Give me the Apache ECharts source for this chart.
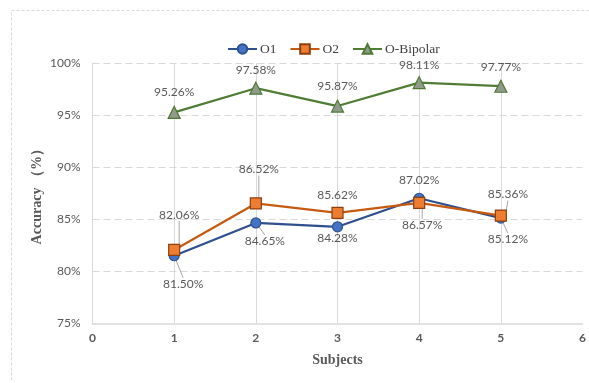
<!DOCTYPE html>
<html>
<head>
<meta charset="utf-8">
<script src="https://cdn.jsdelivr.net/npm/echarts@6/dist/echarts.min.js"></script>
<style>
  html, body { margin: 0; padding: 0; background: #fff; }
  #chart { width: 589px; height: 383px; }
</style>
</head>
<body>
<div id="chart"></div>
<script>
// Accuracy per subject for the three electrode settings
const subjects = [1, 2, 3, 4, 5];
const o1Values = [81.50, 84.65, 84.28, 87.02, 85.12];
const o2Values = [82.06, 86.52, 85.62, 86.57, 85.36];
const bipolarValues = [95.26, 97.58, 95.87, 98.11, 97.77];
const yTicks = [75, 80, 85, 90, 95, 100];
const xTicks = [0, 1, 2, 3, 4, 5, 6];

// label placement (pixel shift from each marker) and which labels get a leader line
const o1Shift = [[9, 28], [9, 18], [0, 11], [0, -18], [7, 21]];
const o2Shift = [[5, -35], [3, -34], [0, -18], [3, 22], [7, -21]];
const bipolarShift = [[0, -20], [0, -18], [0, -20], [0, -18], [0, -19]];
const o1Leader = [true, true, false, false, true];
const o2Leader = [true, true, false, true, true];
const bipolarLeader = [false, false, false, false, false];

const labelFont = 'Lato, "Noto Sans", sans-serif';
const serifFont = '"Liberation Serif", "DejaVu Serif", serif';
const gridGray = '#D9D9D9';
const textGray = '#595959';

function buildSeries(name, values, shift, leader, lineColor, fill, border, symbol, size) {
  return {
    name: name,
    type: 'line',
    symbol: symbol,
    symbolSize: size,
    lineStyle: { color: lineColor, width: 2.25 },
    itemStyle: { color: fill, borderColor: border, borderWidth: 1.2 },
    data: subjects.map((s, i) => ({
      value: [s, values[i]],
      labelLine: { show: leader[i] }
    })),
    label: {
      show: true,
      position: 'inside',
      color: textGray,
      fontFamily: labelFont,
      fontSize: 12,
      formatter: p => p.value[1].toFixed(2) + '%'
    },
    labelLine: {
      lineStyle: { color: '#A6A6A6', width: 1 }
    },
    labelLayout: p => ({ dx: shift[p.dataIndex][0], dy: shift[p.dataIndex][1] }),
    emphasis: { disabled: true },
    animation: false
  };
}

const chart = echarts.init(document.getElementById('chart'), null, { renderer: 'canvas' });
chart.setOption({
  backgroundColor: '#fff',
  animation: false,
  graphic: [{
    type: 'rect',
    shape: { x: 11.5, y: 10.5, width: 640, height: 440 },
    style: { fill: 'none', stroke: gridGray, lineWidth: 1, lineDash: [3, 2] },
    silent: true,
    z: -10
  }],
  legend: {
    top: 37,
    left: 222,
    itemWidth: 29,
    itemHeight: 12,
    itemGap: 13,
    textStyle: { fontFamily: serifFont, fontSize: 13.5, color: '#404040', padding: [0, 0, 0, -2] },
    data: ['O1', 'O2', 'O-Bipolar']
  },
  grid: { left: 92.5, right: 3, top: 63, bottom: 59.5, containLabel: false },
  xAxis: {
    type: 'value',
    min: xTicks[0],
    max: xTicks[xTicks.length - 1],
    interval: 1,
    name: 'Subjects',
    nameLocation: 'middle',
    nameGap: 30,
    nameMoveOverlap: false,
    nameTextStyle: { fontFamily: serifFont, fontWeight: 'bold', fontSize: 14, color: textGray },
    axisLine: { show: true, lineStyle: { color: gridGray, width: 1.5 } },
    axisTick: { show: false },
    axisLabel: { color: textGray, fontFamily: labelFont, fontWeight: 'bold', fontSize: 12, margin: 9 },
    splitLine: { show: true, showMinLine: false, showMaxLine: false, lineStyle: { color: gridGray, width: 1 } }
  },
  yAxis: {
    type: 'value',
    min: yTicks[0],
    max: yTicks[yTicks.length - 1],
    interval: 5,
    name: 'Accuracy （%）',
    nameLocation: 'middle',
    nameGap: 48,
    nameMoveOverlap: false,
    nameTextStyle: { fontFamily: serifFont, fontWeight: 'bold', fontSize: 14, color: textGray },
    axisLine: { show: true, lineStyle: { color: gridGray, width: 1 } },
    axisTick: { show: false },
    axisLabel: { color: textGray, fontFamily: labelFont, fontSize: 12, margin: 12, formatter: '{value}%' },
    splitLine: { show: true, showMinLine: false, lineStyle: { color: gridGray, width: 1, type: [7, 4] } }
  },
  series: [
    buildSeries('O1', o1Values, o1Shift, o1Leader, '#2F4F8F', '#4472C4', '#2F528F', 'circle', 10),
    buildSeries('O2', o2Values, o2Shift, o2Leader, '#C55A11', '#ED7D31', '#8E3F0E', 'rect', 11),
    buildSeries('O-Bipolar', bipolarValues, bipolarShift, bipolarLeader, '#507C35', '#8F9A8B', '#4E7A34', 'triangle', 12)
  ]
});
</script>
</body>
</html>
